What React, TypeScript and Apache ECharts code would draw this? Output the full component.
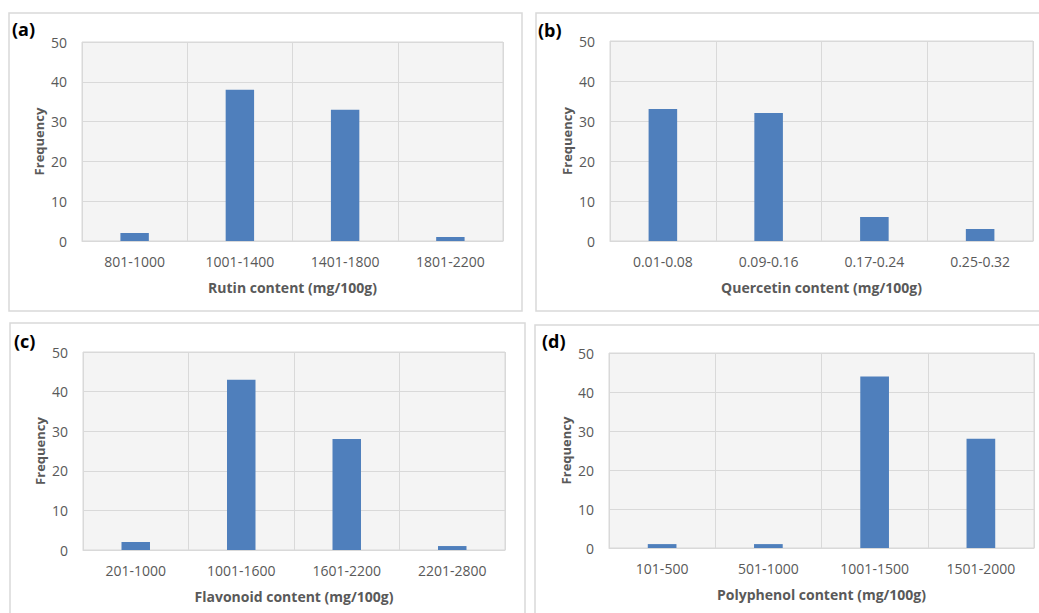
import React, { useEffect, useRef } from "react";
import * as echarts from "echarts";

const panelLetters = ["(a)", "(b)", "(c)", "(d)"];
const axisTitles = [
  "Rutin content (mg/100g)",
  "Quercetin content (mg/100g)",
  "Flavonoid content (mg/100g)",
  "Polyphenol content (mg/100g)",
];
const rutinCats = ["801-1000", "1001-1400", "1401-1800", "1801-2200"];
const rutinFreq = [2, 38, 33, 1];
const quercetinCats = ["0.01-0.08", "0.09-0.16", "0.17-0.24", "0.25-0.32"];
const quercetinFreq = [33, 32, 6, 3];
const flavonoidCats = ["201-1000", "1001-1600", "1601-2200", "2201-2800"];
const flavonoidFreq = [2, 43, 28, 1];
const polyphenolCats = ["101-500", "501-1000", "1001-1500", "1501-2000"];
const polyphenolFreq = [1, 1, 44, 28];
const yTitle = "Frequency";
const yMin = 0;
const yMax = 50;
const yInterval = 10;

const FONT = "'Open Sans', 'Liberation Sans', sans-serif";
const TEXT = "#595959";
const GRID = "#d9d9d9";
const BAR = "#4f7fbc";

export default function App() {
  const ref = useRef<HTMLDivElement>(null);
  useEffect(() => {
    if (!ref.current) return;
    const chart = echarts.init(ref.current, undefined, { renderer: "svg" });
    const cats = [rutinCats, quercetinCats, flavonoidCats, polyphenolCats];
    const vals = [rutinFreq, quercetinFreq, flavonoidFreq, polyphenolFreq];
    const grids = [
      { left: 82, top: 42, width: 421, height: 199 },
      { left: 610, top: 41, width: 423, height: 200 },
      { left: 83, top: 352, width: 422, height: 198 },
      { left: 609, top: 353, width: 425, height: 195 },
    ];
    const boxes = [
      { x: 9, y: 13, width: 513, height: 298 },
      { x: 536, y: 13, width: 520, height: 298 },
      { x: 10, y: 323, width: 515, height: 310 },
      { x: 535, y: 325, width: 520, height: 310 },
    ];
    const letterPos = [
      { x: 12, y: 29 },
      { x: 538, y: 30 },
      { x: 14, y: 341 },
      { x: 542, y: 341 },
    ];
    const option: any = {
      animation: false,
      backgroundColor: "#ffffff",
      textStyle: { fontFamily: FONT },
      graphic: [
        ...boxes.map((b) => ({
          type: "rect",
          shape: b,
          style: { fill: "#ffffff", stroke: "#d9d9d9", lineWidth: 1.5 },
          z: -10,
          silent: true,
        })),
        ...letterPos.map((p, i) => ({
          type: "text",
          x: p.x,
          y: p.y,
          style: {
            text: panelLetters[i],
            fontFamily: FONT,
            fontSize: 18,
            fontWeight: "bold",
            fill: "#000000",
            verticalAlign: "middle",
            align: "left",
          },
          z: 10,
        })),
      ],
      grid: grids.map((g) => ({
        ...g,
        show: true,
        backgroundColor: "#f4f4f4",
        borderColor: GRID,
        borderWidth: 1,
        containLabel: false,
      })),
      xAxis: cats.map((c, i) => ({
        type: "category",
        gridIndex: i,
        data: c,
        boundaryGap: true,
        axisLine: { show: true, lineStyle: { color: GRID, width: 1 } },
        axisTick: { show: false },
        splitLine: { show: true, lineStyle: { color: GRID, width: 1 } },
        axisLabel: {
          color: TEXT,
          fontSize: 14,
          fontFamily: FONT,
          margin: 13,
          interval: 0,
        },
        name: axisTitles[i],
        nameLocation: "middle",
        nameGap: 39,
        nameTextStyle: {
          color: TEXT,
          fontSize: 14,
          fontWeight: "bold",
          fontFamily: FONT,
        },
      })),
      yAxis: cats.map((_, i) => ({
        type: "value",
        gridIndex: i,
        min: yMin,
        max: yMax,
        interval: yInterval,
        axisLine: { show: false },
        axisTick: { show: false },
        splitLine: { show: true, lineStyle: { color: GRID, width: 1 } },
        axisLabel: {
          color: TEXT,
          fontSize: 14,
          fontFamily: FONT,
          margin: 15,
        },
        name: yTitle,
        nameLocation: "middle",
        nameGap: 37,
        nameRotate: 90,
        nameTextStyle: {
          color: TEXT,
          fontSize: 13,
          fontWeight: "bold",
          fontFamily: FONT,
        },
      })),
      series: vals.map((v, i) => ({
        type: "bar",
        xAxisIndex: i,
        yAxisIndex: i,
        data: v,
        barWidth: "27%",
        itemStyle: { color: BAR },
      })),
    };
    chart.setOption(option);
    return () => chart.dispose();
  }, []);
  return (
    <div
      ref={ref}
      style={{ position: "fixed", left: 0, top: 0, width: 1039, height: 613 }}
    />
  );
}
